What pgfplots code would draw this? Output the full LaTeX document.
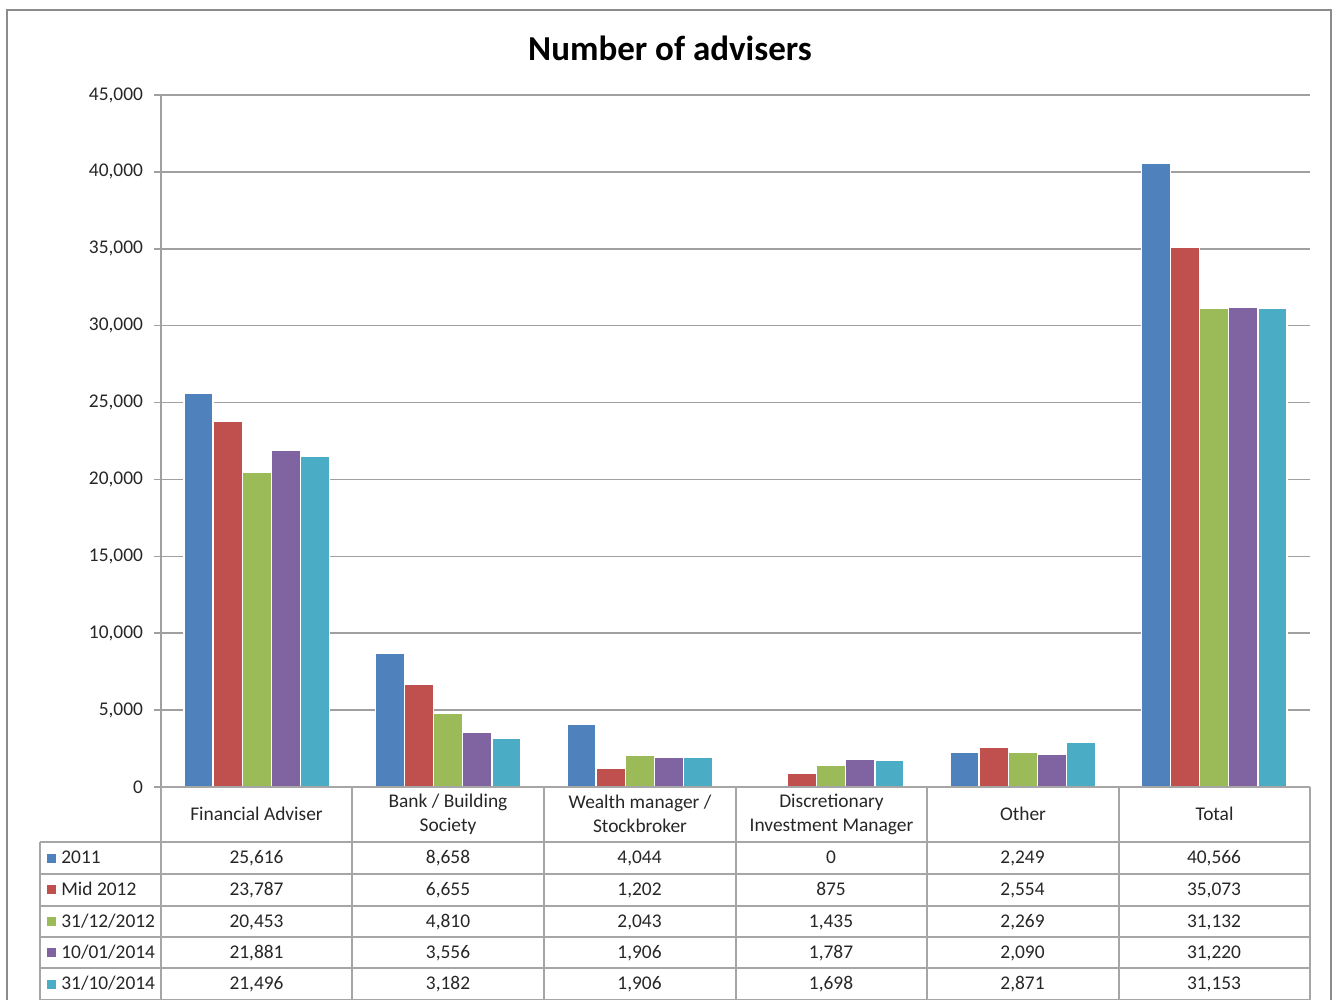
\documentclass[border=0pt]{standalone}
\usepackage{fontspec}
\setmainfont{Carlito}
\usepackage{pgfplots}
\usepackage{pgfplotstable}
\pgfplotsset{compat=1.18}
\definecolor{c1}{HTML}{4F81BD}
\definecolor{c2}{HTML}{C0504D}
\definecolor{c3}{HTML}{9BBB59}
\definecolor{c4}{HTML}{8064A2}
\definecolor{c5}{HTML}{4BACC6}
\definecolor{gridc}{HTML}{A0A0A0}
\definecolor{tablec}{HTML}{A6A6A6}
\definecolor{txt}{HTML}{262626}
\pgfplotstableread{
x s1 s2 s3 s4 s5
0 25616 23787 20453 21881 21496
1 8658 6655 4810 3556 3182
2 4044 1202 2043 1906 1906
3 0 875 1435 1787 1698
4 2249 2554 2269 2090 2871
5 40566 35073 31132 31220 31153
}\datatable
\begin{document}
\begin{tikzpicture}[x=0.5pt,y=-0.5pt,font=\fontsize{9.7}{12}\selectfont,text=txt]
\useasboundingbox (0,0) rectangle (1333,1000);
\draw[gray!90, line width=1pt] (7,1010) -- (7,10) -- (1331,10) -- (1331,1010);
\node[text=black] at (670,48) {\bfseries\fontsize{17.5}{20}\selectfont Number of advisers};
\begin{axis}[
  at={(80.5pt,-393.5pt)}, anchor=south west,
  width=574.5pt, height=346pt, scale only axis,
  xmin=-0.5, xmax=5.5, ymin=0, ymax=45000,
  ybar=0pt, bar width=0.152,
  axis x line=none,
  axis y line*=left,
  axis line style={gridc, line width=0.8pt},
  ytick distance=5000,
  ymajorgrids, grid style={gridc, line width=0.8pt},
  tick align=outside, major tick length=3.5pt,
  ytick style={gridc, line width=0.8pt},
  scaled y ticks=false,
  yticklabel style={/pgf/number format/.cd, 1000 sep={,}, assume math mode=true, /tikz/.cd, font=\fontsize{9.7}{12}\selectfont, text=txt, xshift=-2pt},
  clip=false,
]
\addplot[fill=c1, draw=white, line width=0.6pt] table[x=x,y=s1]{\datatable};
\addplot[fill=c2, draw=white, line width=0.6pt] table[x=x,y=s2]{\datatable};
\addplot[fill=c3, draw=white, line width=0.6pt] table[x=x,y=s3]{\datatable};
\addplot[fill=c4, draw=white, line width=0.6pt] table[x=x,y=s4]{\datatable};
\addplot[fill=c5, draw=white, line width=0.6pt] table[x=x,y=s5]{\datatable};
\end{axis}
% data table
\draw[tablec, line width=0.8pt] (161,787) -- (1310,787);
\foreach \yy in {842,874,906,937,968,1000} \draw[tablec, line width=0.8pt] (40,\yy) -- (1310,\yy);
\foreach \xx in {161,352,544,736,927,1119,1310} \draw[tablec, line width=0.8pt] (\xx,787) -- (\xx,1000);
\draw[tablec, line width=0.8pt] (40,842) -- (40,1000);
% header
\node at (256.5,814) {Financial Adviser};
\node[align=center] at (448,814) {Bank / Building\\Society};
\node[align=center] at (640,814) {Wealth manager /\\Stockbroker};
\node[align=center] at (831.5,814) {Discretionary\\Investment Manager};
\node at (1023,814) {Other};
\node at (1214.5,814) {Total};
% legend column
\foreach \c/\yy/\lab in {c1/858/2011, c2/889.5/Mid 2012, c3/921.5/31\slash 12\slash 2012, c4/952.5/10\slash 01\slash 2014, c5/984/31\slash 10\slash 2014}{
  \fill[\c] (47,{\yy-4.5}) rectangle (56,{\yy+4.5});
  \node[anchor=west, inner sep=0pt, text height=1.5ex, text depth=0.3ex] at (61,\yy) {\lab};
}
% values
\foreach \r in {0,...,5}{
  \foreach \c/\yy in {1/858,2/889.5,3/921.5,4/952.5,5/984}{
    \pgfplotstablegetelem{\r}{s\c}\of\datatable
    \node[text height=1.5ex, text depth=0.3ex] at ({256.5+191.5*\r},\yy) {\pgfmathprintnumber[1000 sep={,}, assume math mode=true]{\pgfplotsretval}};
  }
}
\end{tikzpicture}
\end{document}
